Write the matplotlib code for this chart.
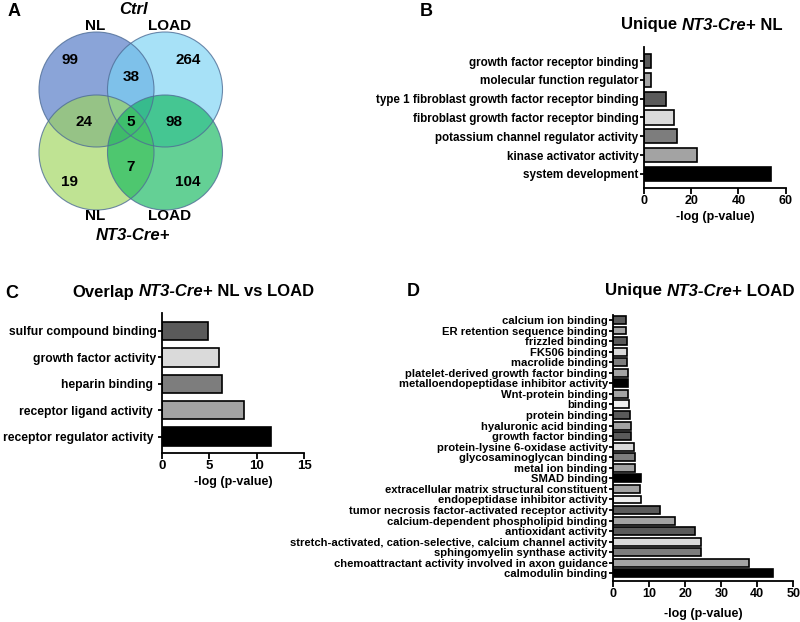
import matplotlib
matplotlib.use("Agg")
import matplotlib.pyplot as plt
from matplotlib.patches import Circle
import numpy as np

plt.rcParams['font.family'] = ['Liberation Sans', 'DejaVu Sans']
plt.rcParams['font.weight'] = 'bold'

# ---- data ----
venn_counts = [99, 264, 38, 24, 5, 98, 7, 19, 104]

b_labels = ["growth factor receptor binding", "molecular function regulator",
            "type 1 fibroblast growth factor receptor binding",
            "fibroblast growth factor receptor binding",
            "potassium channel regulator activity", "kinase activator activity",
            "system development"]
b_values = [2.8, 2.8, 9.5, 12.5, 13.9, 22.5, 53.6]

c_labels = ["sulfur compound binding", "growth factor activity", "heparin binding ",
            "receptor ligand activity ", "receptor regulator activity "]
c_values = [4.9, 6.0, 6.3, 8.7, 11.5]

d_labels = ["calcium ion binding", "ER retention sequence binding", "frizzled binding",
            "FK506 binding", "macrolide binding", "platelet-derived growth factor binding",
            "metalloendopeptidase inhibitor activity", "Wnt-protein binding", "binding",
            "protein binding", "hyaluronic acid binding", "growth factor binding",
            "protein-lysine 6-oxidase activity", "glycosaminoglycan binding",
            "metal ion binding", "SMAD binding",
            "extracellular matrix structural constituent",
            "endopeptidase inhibitor activity",
            "tumor necrosis factor-activated receptor activity",
            "calcium-dependent phospholipid binding", "antioxidant activity",
            "stretch-activated, cation-selective, calcium channel activity",
            "sphingomyelin synthase activity",
            "chemoattractant activity involved in axon guidance", "calmodulin binding"]
d_values = [3.4, 3.4, 3.8, 3.8, 3.8, 4.1, 4.2, 4.2, 4.4, 4.7, 4.8, 5.0, 5.7, 5.9,
            6.0, 7.6, 7.4, 7.8, 12.9, 17.2, 22.6, 24.5, 24.5, 37.7, 44.3]

# gray cycle, starting from the bottom bar
palette = ['#000000', '#a3a3a3', '#7d7d7d', '#dadada', '#5a5a5a',
           '#a3a3a3', '#5a5a5a', '#efefef', '#a3a3a3']

W, H = 800, 622
fig = plt.figure(figsize=(8, 6.22), dpi=100)


def px_axes(x0, y0, x1, y1):
    return fig.add_axes([x0 / W, 1 - y1 / H, (x1 - x0) / W, (y1 - y0) / H])


def ftext(x, y, s, **kw):
    return fig.text(x / W, 1 - y / H, s, **kw)


def mixed_text(xc, y, parts, size):
    r = fig.canvas.get_renderer()
    probe1 = fig.text(0, 0, "x x", fontsize=size, fontweight='bold')
    probe2 = fig.text(0, 0, "xx", fontsize=size, fontweight='bold')
    space_w = probe1.get_window_extent(r).width - probe2.get_window_extent(r).width
    probe1.remove()
    probe2.remove()
    objs, widths = [], []
    for s, style in parts:
        t = ftext(0, y, s.strip(), fontsize=size, fontweight='bold', fontstyle=style,
                  ha='left', va='center')
        lead = len(s) - len(s.lstrip())
        trail = len(s) - len(s.rstrip())
        objs.append((t, lead * space_w))
        widths.append(t.get_window_extent(r).width + (lead + trail) * space_w)
    x = xc - sum(widths) / 2
    for (t, lead), w in zip(objs, widths):
        t.set_x((x + lead) / W)
        x += w


def bar_panel(ax, labels, values, xmax, xstep, lab_size, tick_size, bar_h, ylim):
    n = len(labels)
    y = np.arange(n)[::-1]
    colors = [palette[(n - 1 - i) % len(palette)] for i in range(n)]
    ax.barh(y, values, height=bar_h, color=colors, edgecolor='black', linewidth=1.2)
    ax.set_yticks(y)
    ax.set_yticklabels(labels, fontsize=lab_size, fontweight='bold')
    ax.set_xlim(0, xmax)
    ax.set_ylim(*ylim)
    ax.set_xticks(np.arange(0, xmax + 1, xstep))
    ax.tick_params(axis='x', labelsize=tick_size, width=1.3, length=4, pad=1)
    ax.tick_params(axis='y', width=1.3, length=3, pad=1)
    for lab in ax.get_xticklabels():
        lab.set_fontweight('bold')
    for sp in ['top', 'right']:
        ax.spines[sp].set_visible(False)
    for sp in ['left', 'bottom']:
        ax.spines[sp].set_linewidth(1.3)


# ---- A: venn ----
ax_a = px_axes(0, 0, 250, 260)
ax_a.set_xlim(0, 250)
ax_a.set_ylim(260, 0)
ax_a.set_aspect('equal')
ax_a.axis('off')
circles = [((96.5, 89.5), '#4b73c3'), ((165, 89.5), '#78d2f4'),
           ((96.5, 152.5), '#9dd45a'), ((165, 152.5), '#11b85c')]
for (cx, cy), col in circles:
    ax_a.add_patch(Circle((cx, cy), 57.5, facecolor=col, alpha=0.65, edgecolor='none'))
for (cx, cy), col in circles:
    ax_a.add_patch(Circle((cx, cy), 57.5, fill=False, edgecolor='#4e6d96', lw=0.8, alpha=0.8))
count_pos = [(70, 60), (188, 60), (131, 77), (84, 122), (131, 122), (174, 122),
             (131, 167), (70, 182), (188, 182)]
for (tx, ty), v in zip(count_pos, venn_counts):
    ax_a.text(tx, ty, str(v), ha='center', va='center', fontsize=11, fontweight='bold')
ax_a.text(133, 9, "Ctrl", ha='center', va='center', fontsize=12, fontweight='bold', style='italic')
ax_a.text(95, 26, "NL", ha='center', va='center', fontsize=11, fontweight='bold')
ax_a.text(170, 26, "LOAD", ha='center', va='center', fontsize=11, fontweight='bold')
ax_a.text(95, 216, "NL", ha='center', va='center', fontsize=11, fontweight='bold')
ax_a.text(170, 216, "LOAD", ha='center', va='center', fontsize=11, fontweight='bold')
ax_a.text(133, 236, "NT3-Cre+", ha='center', va='center', fontsize=12, fontweight='bold', style='italic')

# ---- B ----
ax_b = px_axes(644, 47, 785.7, 188)
bar_panel(ax_b, b_labels, b_values, 60, 20, 8.4, 9, 0.75, (-0.75, 6.75))
ax_b.set_xlabel("-log (p-value)", fontsize=9, fontweight='bold', labelpad=3)

# ---- C ----
ax_c = px_axes(162, 313, 304, 453)
bar_panel(ax_c, c_labels, c_values, 15, 5, 8.7, 9.5, 0.7, (-0.62, 4.68))
ax_c.set_xlabel("-log (p-value)", fontsize=9, fontweight='bold', labelpad=3)

# ---- D ----
ax_d = px_axes(613.3, 315, 793.3, 581)
bar_panel(ax_d, d_labels, d_values, 50, 10, 8.1, 9, 0.75, (-0.72, 24.47))
ax_d.set_xlabel("-log (p-value)", fontsize=9, fontweight='bold', labelpad=6)

# ---- titles and panel letters ----
mixed_text(702, 25, [("Unique ", 'normal'), ("NT3-Cre", 'italic'), ("+ NL", 'normal')], 12)
mixed_text(193, 292, [("Overlap ", 'normal'), ("NT3-Cre", 'italic'), ("+ NL vs LOAD", 'normal')], 12)
mixed_text(700, 291, [("Unique ", 'normal'), ("NT3-Cre", 'italic'), ("+ LOAD", 'normal')], 12.2)

for x, y, s in [(14, 12, "A"), (426, 12, "B"), (12, 293, "C"), (413, 292, "D")]:
    ftext(x, y, s, fontsize=13, fontweight='bold', ha='center', va='center')

fig.savefig("out.png", dpi=100)
